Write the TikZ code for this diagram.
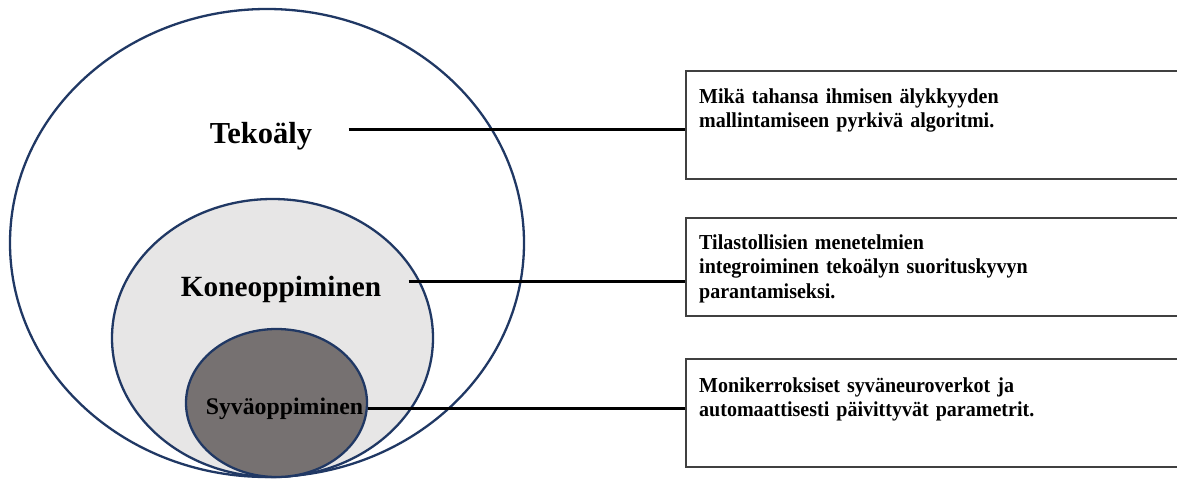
\documentclass[tikz,border=0pt]{standalone}
\usepackage{fontspec}
\setmainfont{Liberation Serif}
\newfontfamily\boxfont[FakeStretch=0.94]{Liberation Serif}
\usetikzlibrary{shapes.geometric}
\definecolor{navy}{HTML}{203864}
\definecolor{midfill}{HTML}{E7E6E6}
\definecolor{innerfill}{HTML}{767171}
\definecolor{boxline}{HTML}{404040}
\tikzset{
  ring/.style={ellipse, draw=navy, line width=2.3pt, inner sep=0pt},
  infobox/.style={draw=boxline, line width=1.6pt, rectangle, anchor=north west, inner sep=0pt, minimum width=500pt},
  infotext/.style={anchor=north west, inner sep=0pt, text width=470pt, align=left, font=\boxfont\fontsize{21.3}{24.5}\selectfont\bfseries},
  conn/.style={line width=3pt, black},
}
\begin{document}
\begin{tikzpicture}[x=1pt,y=-1pt]
\useasboundingbox (0,0) rectangle (1177,479);
% ellipses
\node[ring, fill=white, minimum width=514pt, minimum height=468pt] (outer) at (267,243) {};
\node[ring, fill=midfill, minimum width=321pt, minimum height=278pt] (middle) at (272.5,338) {};
\node[ring, fill=innerfill, minimum width=181pt, minimum height=148pt] (inner) at (276.5,403) {};
% labels
\node[anchor=base, inner sep=0pt, font=\fontsize{30.5}{36}\selectfont\bfseries] (tek) at (261,143) {Tekoäly};
\node[anchor=base, inner sep=0pt, font=\fontsize{29.3}{35}\selectfont\bfseries] (kone) at (281,296) {Koneoppiminen};
\node[anchor=base, inner sep=0pt, font=\fontsize{23.8}{28}\selectfont\bfseries] (syva) at (284.5,414) {Syväoppiminen};
% boxes
\node[infobox, minimum height=108pt] (b1) at (685,70) {};
\node[infobox, minimum height=98pt] (b2) at (685,217) {};
\node[infobox, minimum height=108pt] (b3) at (685,358) {};
\node[infotext] (t1) at (699,88.5) {Mikä tahansa ihmisen älykkyyden\\mallintamiseen pyrkivä algoritmi.};
\node[infotext] (t2) at (699,234.5) {Tilastollisien menetelmien\\integroiminen tekoälyn suorituskyvyn\\parantamiseksi.};
\node[infotext] (t3) at (699,377.5) {Monikerroksiset syväneuroverkot ja\\automaattisesti päivittyvät parametrit.};
% connectors
\coordinate (s1) at (348.5,129);
\coordinate (s2) at (408.5,281.5);
\coordinate (s3) at (inner.east |- 0,408.5);
\draw[conn] (s1) -- (s1 -| b1.west);
\draw[conn] (s2) -- (s2 -| b2.west);
\draw[conn] (s3) -- (s3 -| b3.west);
\end{tikzpicture}
\end{document}
